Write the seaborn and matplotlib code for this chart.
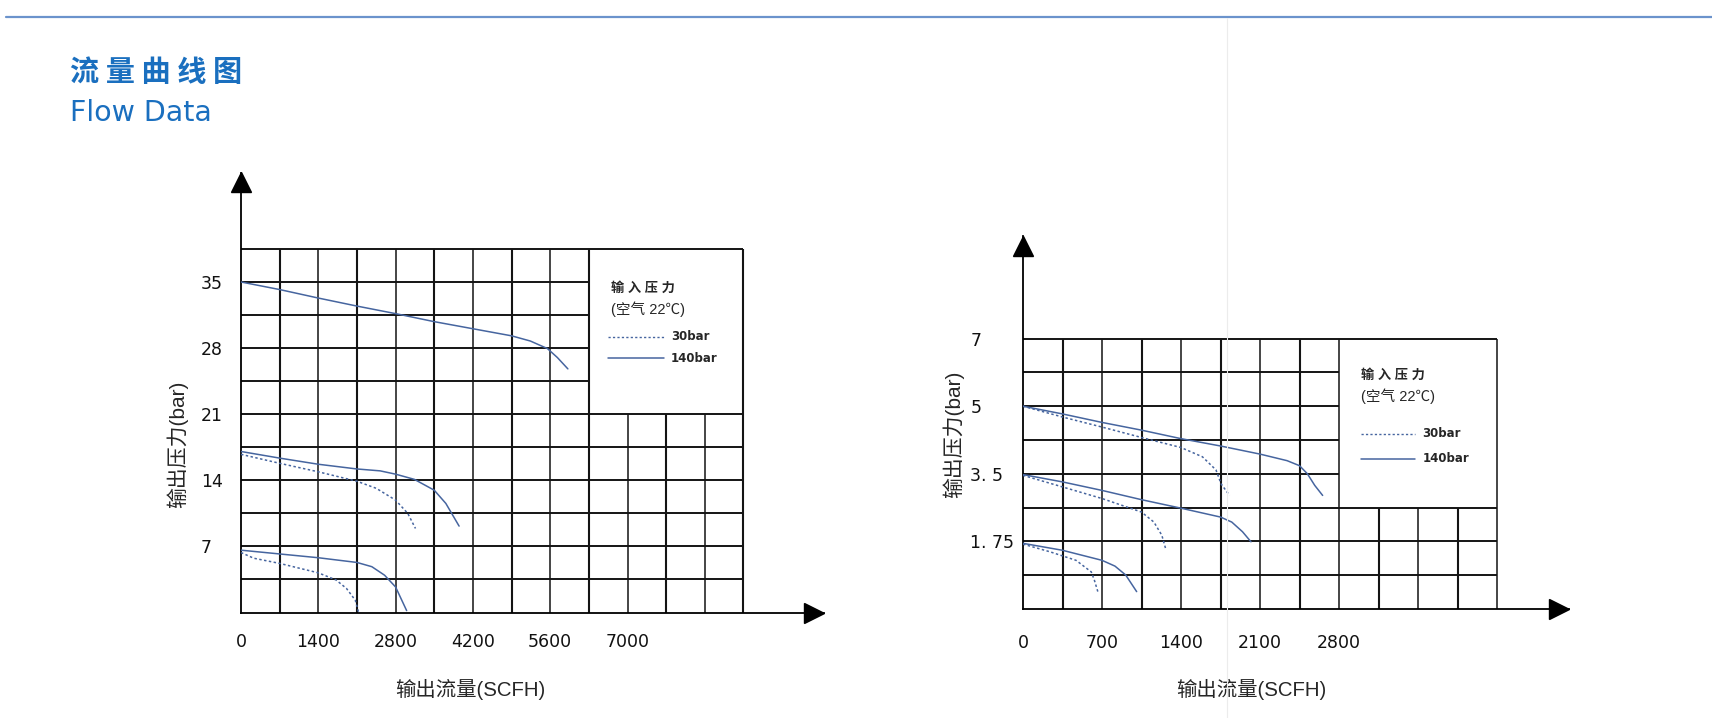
import pandas as pd
import matplotlib
matplotlib.use("Agg")
from matplotlib import pyplot as plt
from matplotlib.lines import Line2D
from matplotlib.transforms import offset_copy
import seaborn as sb

################################################################################################
"""DATA"""

# left chart (outlet 0-35 bar)
L_top_140_x = [0, 700, 1400, 2100, 2800, 3500, 4200, 4900, 5240, 5550, 5730, 5920]
L_top_140_y = [35.0, 34.2, 33.3, 32.45, 31.65, 30.8, 30.05, 29.3, 28.75, 27.95, 27.0, 25.8]
L_mid_140_x = [0, 700, 1400, 2100, 2520, 2800, 3140, 3500, 3710, 3950]
L_mid_140_y = [17.05, 16.35, 15.7, 15.2, 15.0, 14.65, 14.1, 12.95, 11.55, 9.15]
L_mid_30_x = [0, 700, 1400, 2100, 2450, 2800, 3020, 3160]
L_mid_30_y = [16.75, 15.8, 14.9, 13.9, 13.15, 11.9, 10.5, 8.9]
L_low_140_x = [0, 700, 1400, 2100, 2370, 2600, 2800, 3000]
L_low_140_y = [6.6, 6.2, 5.8, 5.3, 4.85, 3.95, 2.7, 0.2]
L_low_30_x = [0, 230, 700, 1400, 1720, 1910, 2070, 2130]
L_low_30_y = [6.35, 5.75, 5.2, 4.2, 3.45, 2.55, 1.3, 0.0]

L_xticks = [0, 1400, 2800, 4200, 5600, 7000]
L_xlabels = ["0", "1400", "2800", "4200", "5600", "7000"]
L_yticks = [7, 14, 21, 28, 35]
L_ylabels = ["7", "14", "21", "28", "35"]

# right chart (outlet 0-7 bar)
R_top_140_x = [0, 350, 700, 1050, 1400, 1750, 2100, 2340, 2450, 2520, 2585, 2655]
R_top_140_y = [5.25, 5.05, 4.83, 4.63, 4.41, 4.22, 4.01, 3.84, 3.71, 3.5, 3.2, 2.94]
R_top_30_x = [0, 350, 700, 1050, 1400, 1590, 1710, 1755, 1830]
R_top_30_y = [5.25, 4.97, 4.71, 4.44, 4.18, 3.94, 3.6, 3.24, 2.94]
R_mid_140_x = [0, 350, 700, 1050, 1400, 1750, 1850, 1945, 2020]
R_mid_140_y = [3.48, 3.29, 3.07, 2.83, 2.61, 2.38, 2.25, 2.0, 1.74]
R_mid_30_x = [0, 350, 700, 1050, 1160, 1230, 1268]
R_mid_30_y = [3.46, 3.16, 2.86, 2.51, 2.25, 1.91, 1.52]
R_low_140_x = [0, 350, 700, 815, 910, 1007]
R_low_140_y = [1.7, 1.52, 1.26, 1.11, 0.88, 0.45]
R_low_30_x = [0, 240, 470, 605, 632, 663]
R_low_30_y = [1.68, 1.48, 1.26, 0.96, 0.75, 0.45]

R_xticks = [0, 700, 1400, 2100, 2800]
R_xlabels = ["0", "700", "1400", "2100", "2800"]
R_yticks = [1.75, 3.5, 5.25, 7]
R_ylabels = ["1. 75", "3. 5", "5", "7"]

inlet_names = ["30bar", "140bar"]

################################################################################################
"""SETTINGS"""

W, H = 1712, 718
line_col = "#46659f"
grid_col = "#141414"
blue = "#1a6fbf"

sb.set_theme(style="white")
plt.rcParams['font.family'] = ['Liberation Sans', 'Noto Sans CJK SC', 'DejaVu Sans']


def make_df(curves):
    frames = []
    for name, inlet, xs, ys in curves:
        frames.append(pd.DataFrame({"flow": xs, "pressure": ys, "curve": name, "inlet": inlet}))
    return pd.concat(frames, ignore_index=True)


def px_axes(fig, x0, x1, y_top, y_bot):
    return fig.add_axes([x0 / W, 1 - y_bot / H, (x1 - x0) / W, (y_bot - y_top) / H])


def draw_chart(ax, df, dx, n_cols, dy, n_rows, box_col, box_row, xmax, ymax):
    gx = n_cols * dx
    gy = n_rows * dy
    bx = box_col * dx
    by = box_row * dy
    # grid, with the legend box left empty
    for i in range(1, n_cols + 1):
        x = i * dx
        top = gy if (i <= box_col or i == n_cols) else by
        ax.vlines(x, 0, top, color=grid_col, lw=1.5 if i % 2 else 1.1, zorder=1)
    for j in range(1, n_rows + 1):
        y = j * dy
        right = gx if (j <= box_row or j == n_rows) else bx
        ax.hlines(y, 0, right, color=grid_col, lw=1.4, zorder=1)

    sb.lineplot(data=df, x="flow", y="pressure", units="curve", estimator=None,
                style="inlet", style_order=inlet_names,
                dashes={"30bar": (1.6, 1.6), "140bar": ""},
                color=line_col, lw=1.1, sort=False, legend=False, ax=ax, zorder=3)

    ax.set_xlim(0, xmax)
    ax.set_ylim(0, ymax)
    for s in ["top", "right"]:
        ax.spines[s].set_visible(False)
    for s in ["left", "bottom"]:
        ax.spines[s].set_color("black")
        ax.spines[s].set_linewidth(1.3)
    ax.tick_params(length=0, labelsize=12.5, colors="#111111")

    # arrow heads on the axes
    fig = ax.figure
    ax.plot([0], [1], marker="^", ms=14, color="black", clip_on=False,
            transform=offset_copy(ax.transAxes, fig=fig, x=0, y=-7, units="points"))
    ax.plot([1], [0], marker=">", ms=14, color="black", clip_on=False,
            transform=offset_copy(ax.transAxes, fig=fig, x=-7, y=0, units="points"))


def style_ticks(ax, ypad, xpad):
    ax.tick_params(axis="y", pad=ypad)
    ax.tick_params(axis="x", pad=xpad)
    for lab in ax.get_yticklabels() + ax.get_xticklabels():
        lab.set_family(["DejaVu Sans"])
    for lab in ax.get_yticklabels():
        lab.set_ha("left")


def draw_legend(ax, x_txt, y1, y2, lx0, lx1, y30, y140, xt):
    ax.text(x_txt, y1, "输 入 压 力", fontsize=9.5, fontweight="bold", va="center", ha="left")
    ax.text(x_txt, y2, "(空气 22℃)", fontsize=10.5, va="center", ha="left")
    ax.plot([lx0, lx1], [y30, y30], color=line_col, lw=1.0, ls=(0, (1.6, 1.6)))
    ax.plot([lx0, lx1], [y140, y140], color=line_col, lw=1.1)
    ax.text(xt, y30, "30bar", fontsize=8.5, fontweight="bold", va="center", ha="left",
            family=["DejaVu Sans"])
    ax.text(xt, y140, "140bar", fontsize=8.5, fontweight="bold", va="center", ha="left",
            family=["DejaVu Sans"])


################################################################################################
"""MAIN"""

fig = plt.figure(figsize=(W / 100, H / 100), dpi=100)

# header
fig.add_artist(Line2D([6 / W, 1], [1 - 17 / H, 1 - 17 / H], color="#6b93cc", lw=1.6))
fig.add_artist(Line2D([1227 / W, 1227 / W], [0, 1 - 18 / H], color="#ececec", lw=0.8))
fig.text(70 / W, 1 - 72 / H, "流 量 曲 线 图", fontsize=21, fontweight="bold", color=blue,
         va="center", ha="left", family=["Noto Sans CJK SC"])
fig.text(70 / W, 1 - 113 / H, "Flow Data", fontsize=20.5, color=blue, va="center", ha="left",
         family=["DejaVu Sans"])

# left chart
df_left = make_df([
    ("top140", "140bar", L_top_140_x, L_top_140_y),
    ("mid140", "140bar", L_mid_140_x, L_mid_140_y),
    ("mid30", "30bar", L_mid_30_x, L_mid_30_y),
    ("low140", "140bar", L_low_140_x, L_low_140_y),
    ("low30", "30bar", L_low_30_x, L_low_30_y),
])
ax1 = px_axes(fig, 241, 824, 172.5, 612.5)
draw_chart(ax1, df_left, 700, 13, 3.5, 11, 9, 6, (824 - 241) * 700 / 38.65, (612.5 - 172.5) * 3.5 / 33.05)
ax1.set_xticks(L_xticks, L_xlabels)
ax1.set_yticks(L_yticks, L_ylabels)
style_ticks(ax1, 29, 15)
ax1.set_xlabel("输出流量(SCFH)", fontsize=14.7)
ax1.set_ylabel("输出压力(bar)", fontsize=15)
ax1.xaxis.set_label_coords(0.393, -0.174)
ax1.yaxis.set_label_coords(-0.11, 0.383)
ax1.xaxis.label.set_va("center")
ax1.yaxis.label.set_va("center")
draw_legend(ax1, 6700, 34.3, 32.1, 6646, 7660, 29.2, 26.95, 7787)

# right chart
df_right = make_df([
    ("top140", "140bar", R_top_140_x, R_top_140_y),
    ("top30", "30bar", R_top_30_x, R_top_30_y),
    ("mid140", "140bar", R_mid_140_x, R_mid_140_y),
    ("mid30", "30bar", R_mid_30_x, R_mid_30_y),
    ("low140", "140bar", R_low_140_x, R_low_140_y),
    ("low30", "30bar", R_low_30_x, R_low_30_y),
])
ax2 = px_axes(fig, 1023, 1569, 236, 609)
draw_chart(ax2, df_right, 350, 12, 0.875, 8, 8, 3, (1569 - 1023) * 350 / 39.5, (609 - 236) * 0.875 / 33.8)
ax2.set_xticks(R_xticks, R_xlabels)
ax2.set_yticks(R_yticks, R_ylabels)
style_ticks(ax2, 38, 18)
ax2.set_xlabel("输出流量(SCFH)", fontsize=14.7)
ax2.set_ylabel("输出压力(bar)", fontsize=15)
ax2.xaxis.set_label_coords(0.4176, -0.2145)
ax2.yaxis.set_label_coords(-0.128, 0.469)
ax2.xaxis.label.set_va("center")
ax2.yaxis.label.set_va("center")
draw_legend(ax2, 2999, 6.04, 5.51, 2999, 3474, 4.54, 3.89, 3541)

plt.savefig("out.png", dpi=100)
plt.close()
